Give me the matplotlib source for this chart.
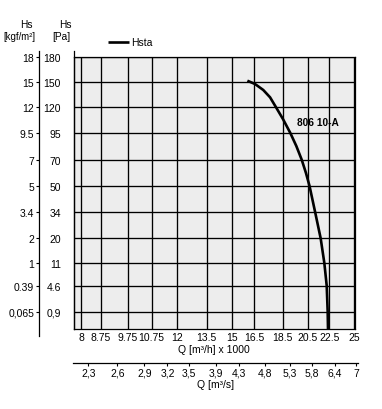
import matplotlib
matplotlib.use("Agg")
import matplotlib.pyplot as plt
import numpy as np

# flow, Q [m3/h] x 1000
q_ticks = [8, 8.75, 9.75, 10.75, 12, 13.5, 15, 16.5, 18.5, 20.5, 22.5, 25]
q_labels = ["8", "8.75", "9.75", "10.75", "12", "13.5", "15", "16.5",
            "18.5", "20.5", "22.5", "25"]
# the same flow in m3/s
qs_ticks = [2.3, 2.6, 2.9, 3.2, 3.5, 3.9, 4.3, 4.8, 5.3, 5.8, 6.4, 7]
qs_labels = ["2,3", "2,6", "2,9", "3,2", "3,5", "3,9", "4,3", "4,8",
             "5,3", "5,8", "6,4", "7"]
# static pressure, Pa and kgf/m2
pa_ticks = [0.9, 4.6, 11, 20, 34, 50, 70, 95, 120, 150, 180]
pa_labels = ["0,9", "4.6", "11", "20", "34", "50", "70", "95", "120", "150", "180"]
kgf_labels = ["0,065", "0.39", "1", "2", "3.4", "5", "7", "9.5", "12", "15", "18"]

# Hsta curve of the 806 10-A
curve_q = [16.04, 16.55, 17.13, 17.61, 18.03, 18.52, 19.11, 19.59, 20.02,
           20.36, 20.67, 21.18, 21.70, 22.04, 22.26, 22.35, 22.38]
curve_pa = [151.2, 147.3, 140.3, 131.7, 120, 108.6, 95, 82.8, 70,
            59.8, 49.8, 34, 20, 11, 4.6, 0.9, 0]

# the printed grid is not linear: pixel rows/columns of the grid lines
W, H = 382, 410
q_grid_px = [81, 101, 127.7, 151.7, 177.3, 206.7, 231.7, 254.3, 282.7, 307.7,
             329.3, 354.3]
pa_floor = 0
pa_grid_px = [330, 312.7, 286.7, 264, 239.3, 212.7, 186.7, 160.7, 134, 108.3,
              82.7, 58.3]

plt.rcParams["font.family"] = ["Liberation Sans", "DejaVu Sans"]
plt.rcParams["font.size"] = 7.5


def piecewise(xs, ys):
    xs = np.asarray(xs, float)
    ys = np.asarray(ys, float)

    def f(v):
        v = np.asarray(v, float)
        i = np.clip(np.searchsorted(xs, v) - 1, 0, len(xs) - 2)
        return ys[i] + (v - xs[i]) * (ys[i + 1] - ys[i]) / (xs[i + 1] - xs[i])
    return f


def box(left, top, right, bottom):
    return [left / W, 1 - bottom / H, (right - left) / W, (bottom - top) / H]


qx_fwd = piecewise(q_ticks, q_grid_px)
qx_inv = piecewise(q_grid_px, q_ticks)
pa_vals = [pa_floor] + pa_ticks
pa_neg = [-p for p in pa_grid_px]
py_fwd = piecewise(pa_vals, pa_neg)
py_inv = piecewise(pa_neg, pa_vals)

fig = plt.figure(figsize=(W / 100, H / 100), dpi=100)

# main chart
ax = fig.add_axes(box(73.5, 58.3, 355, 330))
ax.set_facecolor("#ededed")
ax.set_xscale("function", functions=(qx_fwd, qx_inv))
ax.set_yscale("function", functions=(py_fwd, py_inv))
ax.set_xlim(qx_inv(73.5), qx_inv(355))
ax.set_ylim(py_inv(-330), py_inv(-58.3))
ax.set_xticks(q_ticks, q_labels)
ax.set_yticks(pa_ticks, [])
ax.minorticks_off()
ax.grid(True, color="black", lw=0.95)
ax.tick_params(length=0, pad=2.5)
for s in ax.spines.values():
    s.set_linewidth(0.9)
ax.set_xlabel("Q [m³/h] x 1000", labelpad=1)

ax.plot(curve_q, curve_pa, color="black", lw=1.9, label="Hsta",
        solid_capstyle="butt", solid_joinstyle="round")
ax.text(19.62, 106, "806 10-A", ha="left", va="center", fontsize=7.3,
        fontweight="bold")
ax.legend(loc="center left", bbox_to_anchor=(0.1215, 1.055), frameon=False,
          borderpad=0, borderaxespad=0, handlelength=2.0, handletextpad=0.25,
          fontsize=7.5)


def pressure_axis(x_px, labels, tick_len, pad):
    a = fig.add_axes(box(x_px, 52, x_px + 1, 337 if tick_len else 330))
    a.patch.set_visible(False)
    for k in ("top", "right", "bottom"):
        a.spines[k].set_visible(False)
    a.spines["left"].set_linewidth(0.9)
    a.set_yscale("function", functions=(py_fwd, py_inv))
    a.set_ylim(py_inv(-(337 if tick_len else 330)), py_inv(-52))
    a.set_yticks(pa_ticks, labels)
    a.minorticks_off()
    a.set_xticks([])
    a.tick_params(axis="y", length=tick_len, width=0.8, pad=pad)
    return a


pressure_axis(73.5, pa_labels, 0, 9)
pressure_axis(39, kgf_labels, 2, 1.5)

fig.text(33 / W, 1 - 25 / H, "Hs", ha="right", va="center", fontsize=7.3)
fig.text(36 / W, 1 - 36.5 / H, "[kgf/m²]", ha="right", va="center",
         fontsize=6.9)
fig.text(72 / W, 1 - 25 / H, "Hs", ha="right", va="center", fontsize=7.3)
fig.text(70 / W, 1 - 36.5 / H, "[Pa]", ha="right", va="center", fontsize=7.3)

# second flow scale in m3/s
ax2 = fig.add_axes(box(73.5, 363.5, 358, 364))
ax2.patch.set_visible(False)
for k in ("top", "left", "right"):
    ax2.spines[k].set_visible(False)
ax2.spines["bottom"].set_linewidth(0.9)
ax2.set_xscale("function",
               functions=(lambda v: qx_fwd(np.asarray(v, float) * 3.6),
                          lambda p: qx_inv(p) / 3.6))
ax2.set_xlim(qx_inv(73.5) / 3.6, qx_inv(358) / 3.6)
ax2.set_xticks(qs_ticks, qs_labels)
ax2.minorticks_off()
ax2.set_yticks([])
ax2.tick_params(axis="x", length=2, width=0.8, pad=1.5)
ax2.set_xlabel("Q [m³/s]", labelpad=1)

fig.savefig("out.png", dpi=100)
plt.close(fig)
